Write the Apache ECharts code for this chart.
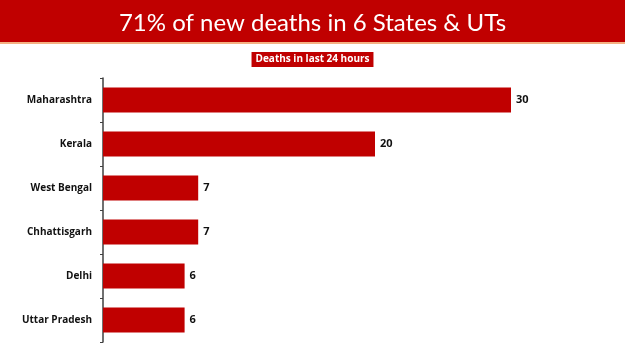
<!DOCTYPE html>
<html>
<head>
<meta charset="utf-8">
<script src="https://cdn.jsdelivr.net/npm/echarts@6/dist/echarts.min.js"></script>
<style>
  html, body { margin: 0; padding: 0; background: #fff; }
  #chart { width: 625px; height: 351px; }
</style>
</head>
<body>
<div id="chart"></div>
<script>
const states = ['Maharashtra', 'Kerala', 'West Bengal', 'Chhattisgarh', 'Delhi', 'Uttar Pradesh']
const deaths = [30, 20, 7, 7, 6, 6]

const chart = echarts.init(document.getElementById('chart'))

const option = {
  backgroundColor: '#fff',
  animation: false,
  graphic: [
    {
      type: 'rect',
      left: 0,
      top: 0,
      shape: { width: 625, height: 42 },
      style: { fill: '#c00000' }
    },
    {
      type: 'rect',
      left: 0,
      top: 42,
      shape: { width: 625, height: 2 },
      style: { fill: '#f4b183' }
    }
  ],
  title: [
    {
      text: '71% of new deaths in 6 States & UTs',
      left: 'center',
      top: 6,
      textStyle: { color: '#fff', fontFamily: 'Lato', fontWeight: 'normal', fontSize: 24 }
    },
    {
      text: 'Deaths in last 24 hours',
      left: 'center',
      top: 52,
      backgroundColor: '#c00000',
      padding: [2, 4, 2, 4],
      textStyle: { color: '#fff', fontFamily: 'Open Sans', fontWeight: 'bold', fontSize: 10, lineHeight: 11 }
    }
  ],
  grid: { left: 103, right: 46, top: 78, bottom: 9 },
  xAxis: {
    type: 'value',
    min: 0,
    max: 35,
    show: false
  },
  yAxis: {
    type: 'category',
    inverse: true,
    data: states,
    axisLine: { lineStyle: { color: '#404040', width: 1.5 } },
    axisTick: { show: true, length: 3, lineStyle: { color: '#404040' } },
    axisLabel: {
      color: '#111',
      fontFamily: 'Open Sans',
      fontWeight: 'bold',
      fontSize: 10,
      margin: 11
    }
  },
  series: [
    {
      type: 'bar',
      data: deaths,
      barWidth: 25,
      itemStyle: { color: '#c00000' },
      label: {
        show: true,
        position: 'right',
        distance: 5,
        color: '#111',
        fontFamily: 'Open Sans',
        fontWeight: 'bold',
        fontSize: 11
      }
    }
  ]
}

chart.setOption(option)
</script>
</body>
</html>
